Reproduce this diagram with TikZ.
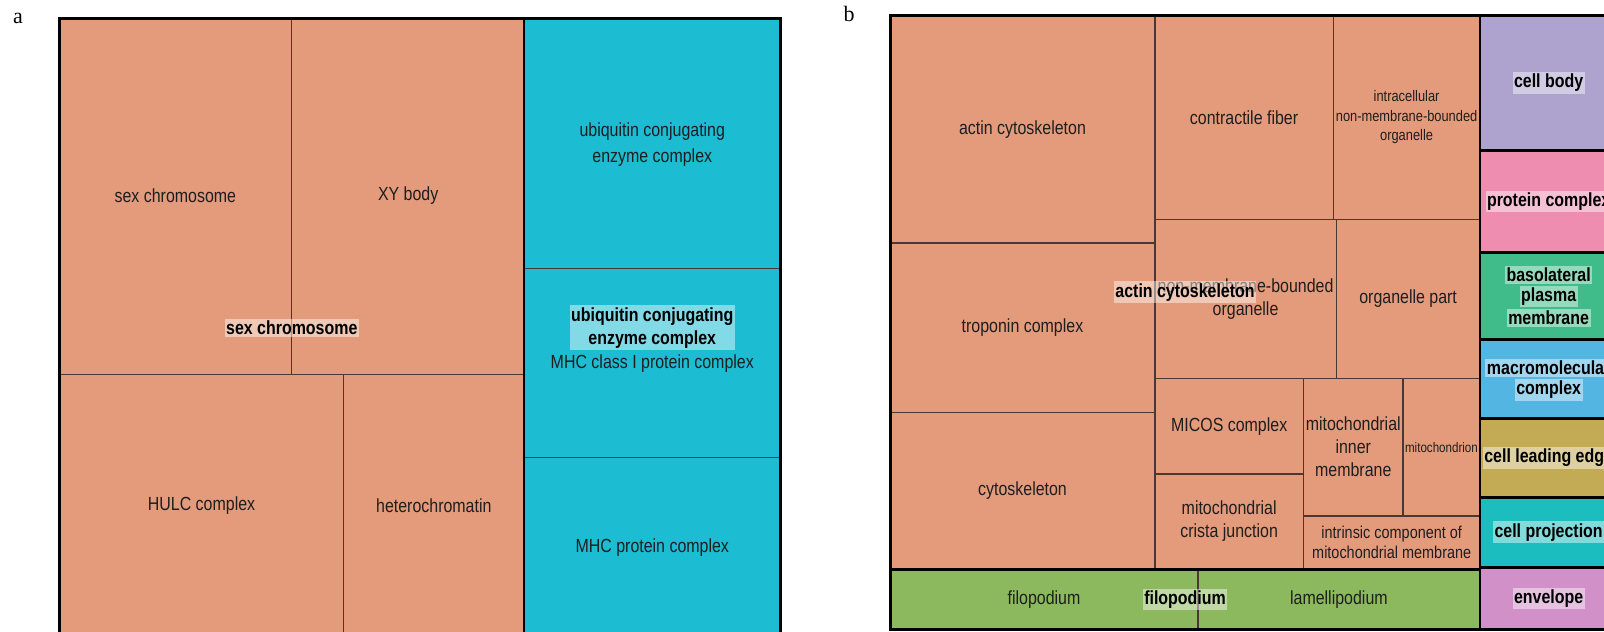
\documentclass[tikz,border=0pt]{standalone}
\usepackage{fontspec}
\newfontfamily\labfont[FakeStretch=0.84]{Liberation Sans}
\newfontfamily\panfont{Liberation Serif}
\definecolor{salmon}{HTML}{E39B7B}
\definecolor{cyanbox}{HTML}{1CBCD2}
\definecolor{greenbox}{HTML}{8CB95E}
\definecolor{lavbox}{HTML}{AEA2CF}
\definecolor{pinkbox}{HTML}{EE8DAF}
\definecolor{mintbox}{HTML}{40BC8A}
\definecolor{skybox}{HTML}{52B5E2}
\definecolor{olivebox}{HTML}{C3AA55}
\definecolor{tealbox}{HTML}{1CBDBE}
\definecolor{orchidbox}{HTML}{D190C8}
\definecolor{innerline}{HTML}{4A3832}
\definecolor{txt}{HTML}{1E1E1E}
\begin{document}
\begin{tikzpicture}[x=1.02558pt,y=-1.02558pt,
  term/.style={draw=innerline, line width=1.4pt},
  grp/.style={draw=black, line width=2.8pt},
  tl/.style={font=\labfont\fontsize{19}{23}\selectfont, text=txt, align=center, inner sep=0pt},
  tla/.style={font=\labfont\fontsize{19}{26}\selectfont, text=txt, align=center, inner sep=0pt},
  tsmall/.style={font=\labfont\fontsize{15.3}{19.5}\selectfont, text=txt, align=center, inner sep=0pt},
  tmid/.style={font=\labfont\fontsize{17.2}{20}\selectfont, text=txt, align=center, inner sep=0pt},
  ttiny/.style={font=\labfont\fontsize{13.8}{16}\selectfont, text=txt, align=center, inner sep=0pt},
  gl/.style={font=\labfont\bfseries\fontsize{19}{23}\selectfont, text=black, align=center,
    fill=white, fill opacity=0.45, text opacity=1, inner xsep=1.5pt, inner ysep=2pt},
  panel/.style={font=\panfont\fontsize{22}{24}\selectfont, inner sep=0pt}]
\useasboundingbox (0,0) rectangle (1564,616.2);
\begin{scope}
\clip (0,0) rectangle (1564,616.2);
% ---------------- panel a ----------------
\path[fill=salmon, term] (58,18) rectangle (284,365);
\path[fill=salmon, term] (284,18) rectangle (511,365);
\path[fill=salmon, term] (58,365) rectangle (335,622);
\path[fill=salmon, term] (335,365) rectangle (511,622);
\path[fill=cyanbox, term] (511,18) rectangle (761,262);
\path[fill=cyanbox, term] (511,262) rectangle (761,446);
\path[fill=cyanbox, term] (511,446) rectangle (761,622);
\draw[grp] (58,18) rectangle (511,622);
\draw[grp] (511,18) rectangle (761,622);
% ---------------- panel b ----------------
\path[fill=salmon, term] (868,15) rectangle (1126,237);
\path[fill=salmon, term] (868,237) rectangle (1126,402);
\path[fill=salmon, term] (868,402) rectangle (1126,555);
\path[fill=salmon, term] (1126,15) rectangle (1300,214);
\path[fill=salmon, term] (1300,15) rectangle (1443,214);
\path[fill=salmon, term] (1126,214) rectangle (1303,369);
\path[fill=salmon, term] (1303,214) rectangle (1443,369);
\path[fill=salmon, term] (1126,369) rectangle (1271,462);
\path[fill=salmon, term] (1126,462) rectangle (1271,555);
\path[fill=salmon, term] (1271,369) rectangle (1368,503);
\path[fill=salmon, term] (1368,369) rectangle (1443,503);
\path[fill=salmon, term] (1271,503) rectangle (1443,555);
\path[fill=greenbox, term] (868,555) rectangle (1168,614);
\path[fill=greenbox, term] (1168,555) rectangle (1443,614);
\draw[grp] (868,15) rectangle (1443,555);
\draw[grp] (868,555) rectangle (1443,614);
\draw[grp, fill=lavbox] (1443,15) rectangle (1577,147);
\draw[grp, fill=pinkbox] (1443,147) rectangle (1577,246);
\draw[grp, fill=mintbox] (1443,246) rectangle (1577,331);
\draw[grp, fill=skybox] (1443,331) rectangle (1577,408);
\draw[grp, fill=olivebox] (1443,408) rectangle (1577,485);
\draw[grp, fill=tealbox] (1443,485) rectangle (1577,553);
\draw[grp, fill=orchidbox] (1443,553) rectangle (1577,614);
% ---------------- labels a ----------------
\node[tla] (sexchr) at (171,191) {sex chromosome};
\node[tla] (xybody) at (398,191) {XY body};
\node[tla] (hulc) at (196.5,493) {HULC complex};
\node[tla] (hetero) at (423,493) {heterochromatin};
\node[tla] (ubiq) at (636,141) {ubiquitin conjugating\\enzyme complex};
\node[tla] (mhc1) at (636,355) {MHC class I protein complex};
\node[tla] (mhc) at (636,534) {MHC protein complex};
\node[gl] (gsex) at (284.5,320) {sex chromosome};
\node[gl] (gubiq) at (636,319.5) {ubiquitin conjugating\\enzyme complex};
% ---------------- labels b ----------------
\node[tl] (actin) at (997,126) {actin cytoskeleton};
\node[tl] (tropo) at (997,319.5) {troponin complex};
\node[tl] (cytos) at (997,478.5) {cytoskeleton};
\node[tl] (contr) at (1213,114.5) {contractile fiber};
\node[tsmall] (intra) at (1371.5,114.5) {intracellular\\non-membrane-bounded\\organelle};
\node[tl] (nonmem) at (1214.5,291.5) {non-membrane-bounded\\organelle};
\node[tl] (orgpart) at (1373,291.5) {organelle part};
\node[tl] (micos) at (1198.5,415.5) {MICOS complex};
\node[tl] (crista) at (1198.5,508.5) {mitochondrial\\crista junction};
\node[tl] (inner) at (1319.5,436) {mitochondrial\\inner\\membrane};
\node[ttiny] (mito) at (1405.5,436) {mitochondrion};
\node[tmid] (intrin) at (1357,529) {intrinsic component of\\mitochondrial membrane};
\node[tl] (filo) at (1018,584.5) {filopodium};
\node[tl] (lamel) at (1305.5,584.5) {lamellipodium};
\node[gl] (gactin) at (1155.5,285) {actin cytoskeleton};
\node[gl] (gfilo) at (1155.5,584.5) {filopodium};
% right column
\node[gl] (gbody) at (1510,81) {cell body};
\node[gl] (gprot) at (1510,196.5) {protein complex};
\node[gl] (gbaso1) at (1510,268) {basolateral};
\node[gl] (gbaso2) at (1510,289) {plasma};
\node[gl] (gbaso3) at (1510,310) {membrane};
\node[gl] (gmacro1) at (1510,359) {macromolecular};
\node[gl] (gmacro2) at (1510,380) {complex};
\node[gl] (gedge) at (1510,446.5) {cell leading edge};
\node[gl] (gproj) at (1510,519) {cell projection};
\node[gl] (genv) at (1510,583.5) {envelope};
\end{scope}
\node[panel] (pa) at (17.5,18) {a};
\node[panel] (pb) at (828,14) {b};
\end{tikzpicture}
\end{document}
